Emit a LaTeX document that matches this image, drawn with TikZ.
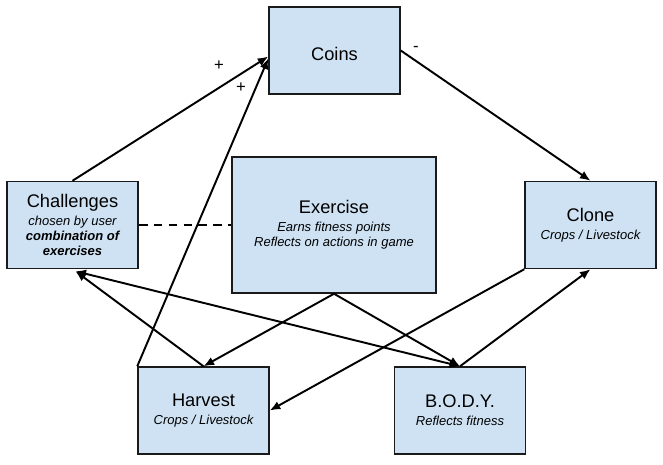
\documentclass[tikz,border=0pt]{standalone}
\usepackage{fontspec}
\setmainfont{Liberation Sans}
\usepackage{xcolor}
\usetikzlibrary{calc,arrows.meta}
\definecolor{bg}{HTML}{FFFFFF}
\definecolor{boxfill}{HTML}{CFE2F3}
\definecolor{edge}{HTML}{1A1A1A}
\definecolor{ink}{HTML}{000000}
\newcommand{\subtxt}{\fontsize{7.4}{8.5}\selectfont\itshape}
\tikzset{
  box/.style={draw=edge, fill=boxfill, line width=0.85pt, minimum width=2.62cm, minimum height=1.74cm,
    align=center, inner sep=2pt, text=ink, font=\fontsize{10.4}{10.2}\selectfont,
    execute at begin node=\rule{0pt}{11pt}},
  bigbox/.style={box, minimum width=4.08cm, minimum height=2.72cm},
  link/.style={draw=ink, line width=1.1pt, -{Latex[length=6pt,width=5pt]}},
  both/.style={link, {Latex[length=6pt,width=5pt]}-{Latex[length=6pt,width=5pt]}},
  tie/.style={draw=ink, line width=1.1pt, dash pattern=on 5pt off 3.5pt},
  sign/.style={text=ink, inner sep=0pt, font=\fontsize{9.5}{11}\selectfont},
}
\begin{document}
\begin{tikzpicture}[x=0.02cm, y=-0.02cm]
  \fill[bg] (0,0) rectangle (663,464);
  \useasboundingbox (0,0) rectangle (663,464);
  % boxes
  \node[box] (coins) at (334.5,50.5) {Coins};
  \node[bigbox] (exer) at (334,225) {Exercise\\{\subtxt Earns fitness points}\\[-1.7pt]{\subtxt Reflects on actions in game}};
  \node[box] (chal) at (72.5,225) {Challenges\\{\subtxt chosen by user}\\[-1.7pt]{\subtxt\bfseries combination of}\\[-1.7pt]{\subtxt\bfseries exercises}};
  \node[box] (clone) at (590.5,225) {Clone\\{\subtxt Crops / Livestock}};
  \node[box] (harv) at (203.5,410.5) {Harvest\\{\subtxt Crops / Livestock}};
  \node[box] (body) at (460,410.5) {B.O.D.Y.\\{\subtxt Reflects fitness}};
  % connectors
  \draw[link] (chal.north) -- ($(coins.west)+(0,6)$);
  \draw[link] (harv.north west) -- ($(coins.west)+(0,8)$);
  \draw[link] (coins.east) -- (clone.north);
  \draw[tie] (chal.east) -- (exer.west);
  \draw[link] (exer.south) -- (harv.north);
  \draw[link] (exer.south) -- (body.north);
  \draw[link] (harv.north) -- ($(chal.south)+(3,2)$);
  \draw[both] ($(chal.south)+(3,2)$) -- (body.north);
  \draw[link] (clone.south west) -- (harv.east);
  \draw[link] (body.north) -- (clone.south);
  % signs
  \node[sign] (plusA) at (219,66) {+};
  \node[sign] (plusB) at (241,88) {+};
  \node[sign] (minus) at (416,49) {-};
\end{tikzpicture}
\end{document}
